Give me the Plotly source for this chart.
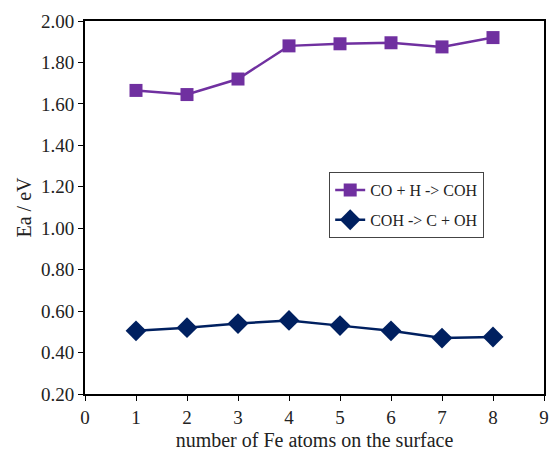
import plotly.graph_objects as go

x_vals = [1, 2, 3, 4, 5, 6, 7, 8]
co_h_coh = [1.665, 1.645, 1.72, 1.88, 1.89, 1.895, 1.875, 1.92]
coh_c_oh = [0.505, 0.52, 0.54, 0.555, 0.53, 0.505, 0.47, 0.475]
y_ticks = [0.2, 0.4, 0.6, 0.8, 1.0, 1.2, 1.4, 1.6, 1.8, 2.0]

font = "Liberation Serif, Times New Roman, serif"

fig = go.Figure()
fig.add_trace(go.Scatter(x=x_vals, y=co_h_coh, mode="lines+markers",
                         name="CO + H -> COH", legendgroup="a",
                         line=dict(color="#7030A0", width=2.5),
                         marker=dict(symbol="square", size=13, color="#7030A0")))
fig.add_trace(go.Scatter(x=x_vals, y=coh_c_oh, mode="lines+markers",
                         name="COH -> C + OH", legendgroup="b",
                         line=dict(color="#002060", width=2.5),
                         marker=dict(symbol="diamond", size=16, color="#002060")))

fig.update_layout(
    width=552, height=452,
    margin=dict(l=85, r=3, t=21, b=58),
    paper_bgcolor="white", plot_bgcolor="white",
    font=dict(family=font, size=17, color="#222"),
    xaxis=dict(range=[0, 9], tickvals=list(range(10)), showgrid=False,
               zeroline=False, showline=True, linecolor="black", linewidth=2,
               mirror=True, ticks="outside", ticklen=5, tickcolor="black",
               tickfont=dict(size=19),
               title=dict(text="number of Fe atoms on the surface", standoff=6)),
    yaxis=dict(range=[0.2, 2.0], tickvals=y_ticks,
               ticktext=[f"{v:.2f}" for v in y_ticks], showgrid=False,
               zeroline=False, showline=True, linecolor="black", linewidth=2,
               mirror=True, ticks="outside", ticklen=5, tickcolor="black",
               tickfont=dict(size=19),
               title=dict(text="Ea / eV", standoff=4)),
    legend=dict(x=0.532, y=0.595, xanchor="left", yanchor="top",
                bordercolor="#444", borderwidth=1, bgcolor="white",
                font=dict(size=16), tracegroupgap=6, itemwidth=30),
    showlegend=True,
)

fig.write_html("out.html")
